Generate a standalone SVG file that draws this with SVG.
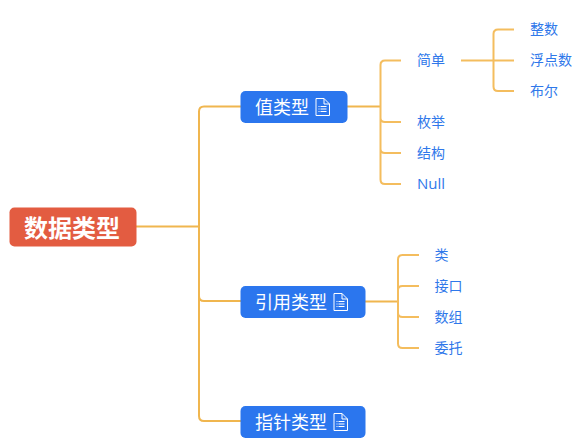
<svg xmlns="http://www.w3.org/2000/svg" width="574" height="447" viewBox="0 0 574 447">
<style>
text{font-family:"Noto Sans CJK SC","Liberation Sans",sans-serif;dominant-baseline:central}
.c{fill:none;stroke:#f0b64f;stroke-width:2}
.c2{fill:none;stroke:#f4bd5e;stroke-width:2}
.root{fill:#e35c41}
.blue{fill:#2b76ee}
.rt{fill:#fff;font-size:24px;font-weight:700}
.bt{fill:#fff;font-size:18px}
.lt{fill:#2f78ea;font-size:14px}
.ic{fill:none;stroke:#fff;stroke-width:1}
.il{fill:#fff}
</style>
<defs>
<g id="doc">
<path class="ic" d="M.5 .5H8.500L14 6V17.500H.5Z"/>
<path class="ic" d="M8.500 .5V6H14"/>
<path class="il" d="M3 8h1v1H3zM5 8h6v1H5zM3 10.500h1v1H3zM5 10.500h6v1H5zM3 13h1v1H3zM5 13h6v1H5z"/>
</g>
</defs>
<g id="connectors">
<path class="c" d="M136 226.500H199M241 106.500H204Q199 106.500 199 111.500V416Q199 421 204 421H241M199 296Q199 301 204 301H241"/>
<path class="c" d="M347 106.500H381"/>
<path class="c2" d="M401 60.500H385Q380.500 60.500 380.500 65V179.500Q380.500 184 385 184H401M380.500 118Q380.500 122 385 122H401M380.500 149Q380.500 153 385 153H401"/>
<path class="c2" d="M461 60.500H514M514 29.500H498Q493.500 29.500 493.500 34V86.500Q493.500 91 498 91H514"/>
<path class="c" d="M365 301.500H398"/>
<path class="c2" d="M419 255H402.500Q398 255 398 259.500V343.500Q398 348 402.500 348H419M398 290Q398 286 402.500 286H419M398 313Q398 317 402.500 317H419"/>
</g>
<g id="n-root"><rect class="root" x="9.500" y="207.500" width="127" height="39" rx="5"/><text class="rt" x="24" y="226">数据类型</text></g>
<g id="n-value"><rect class="blue" x="240.500" y="91" width="107" height="32" rx="5"/><text class="bt" x="255" y="105.500">值类型</text><use href="#doc" x="315.500" y="98"/></g>
<g id="n-ref"><rect class="blue" x="240.500" y="286" width="125" height="32" rx="5"/><text class="bt" x="255" y="300.500">引用类型</text><use href="#doc" x="333.500" y="293"/></g>
<g id="n-ptr"><rect class="blue" x="240.500" y="406" width="125" height="32" rx="5"/><text class="bt" x="255" y="420.500">指针类型</text><use href="#doc" x="333.500" y="413"/></g>
<g id="n-simple"><text class="lt" x="417" y="59">简单</text></g>
<g id="n-enum"><text class="lt" x="417" y="120.500">枚举</text></g>
<g id="n-struct"><text class="lt" x="417" y="151.500">结构</text></g>
<g id="n-null"><text class="lt" x="417" y="183" style="font-family:'Open Sans',sans-serif;font-size:15px">Null</text></g>
<g id="n-int"><text class="lt" x="530" y="28">整数</text></g>
<g id="n-float"><text class="lt" x="530" y="59">浮点数</text></g>
<g id="n-bool"><text class="lt" x="530" y="90">布尔</text></g>
<g id="n-class"><text class="lt" x="434.500" y="253.500">类</text></g>
<g id="n-iface"><text class="lt" x="434.500" y="284.500">接口</text></g>
<g id="n-array"><text class="lt" x="434.500" y="315.500">数组</text></g>
<g id="n-deleg"><text class="lt" x="434.500" y="346.500">委托</text></g>
</svg>
